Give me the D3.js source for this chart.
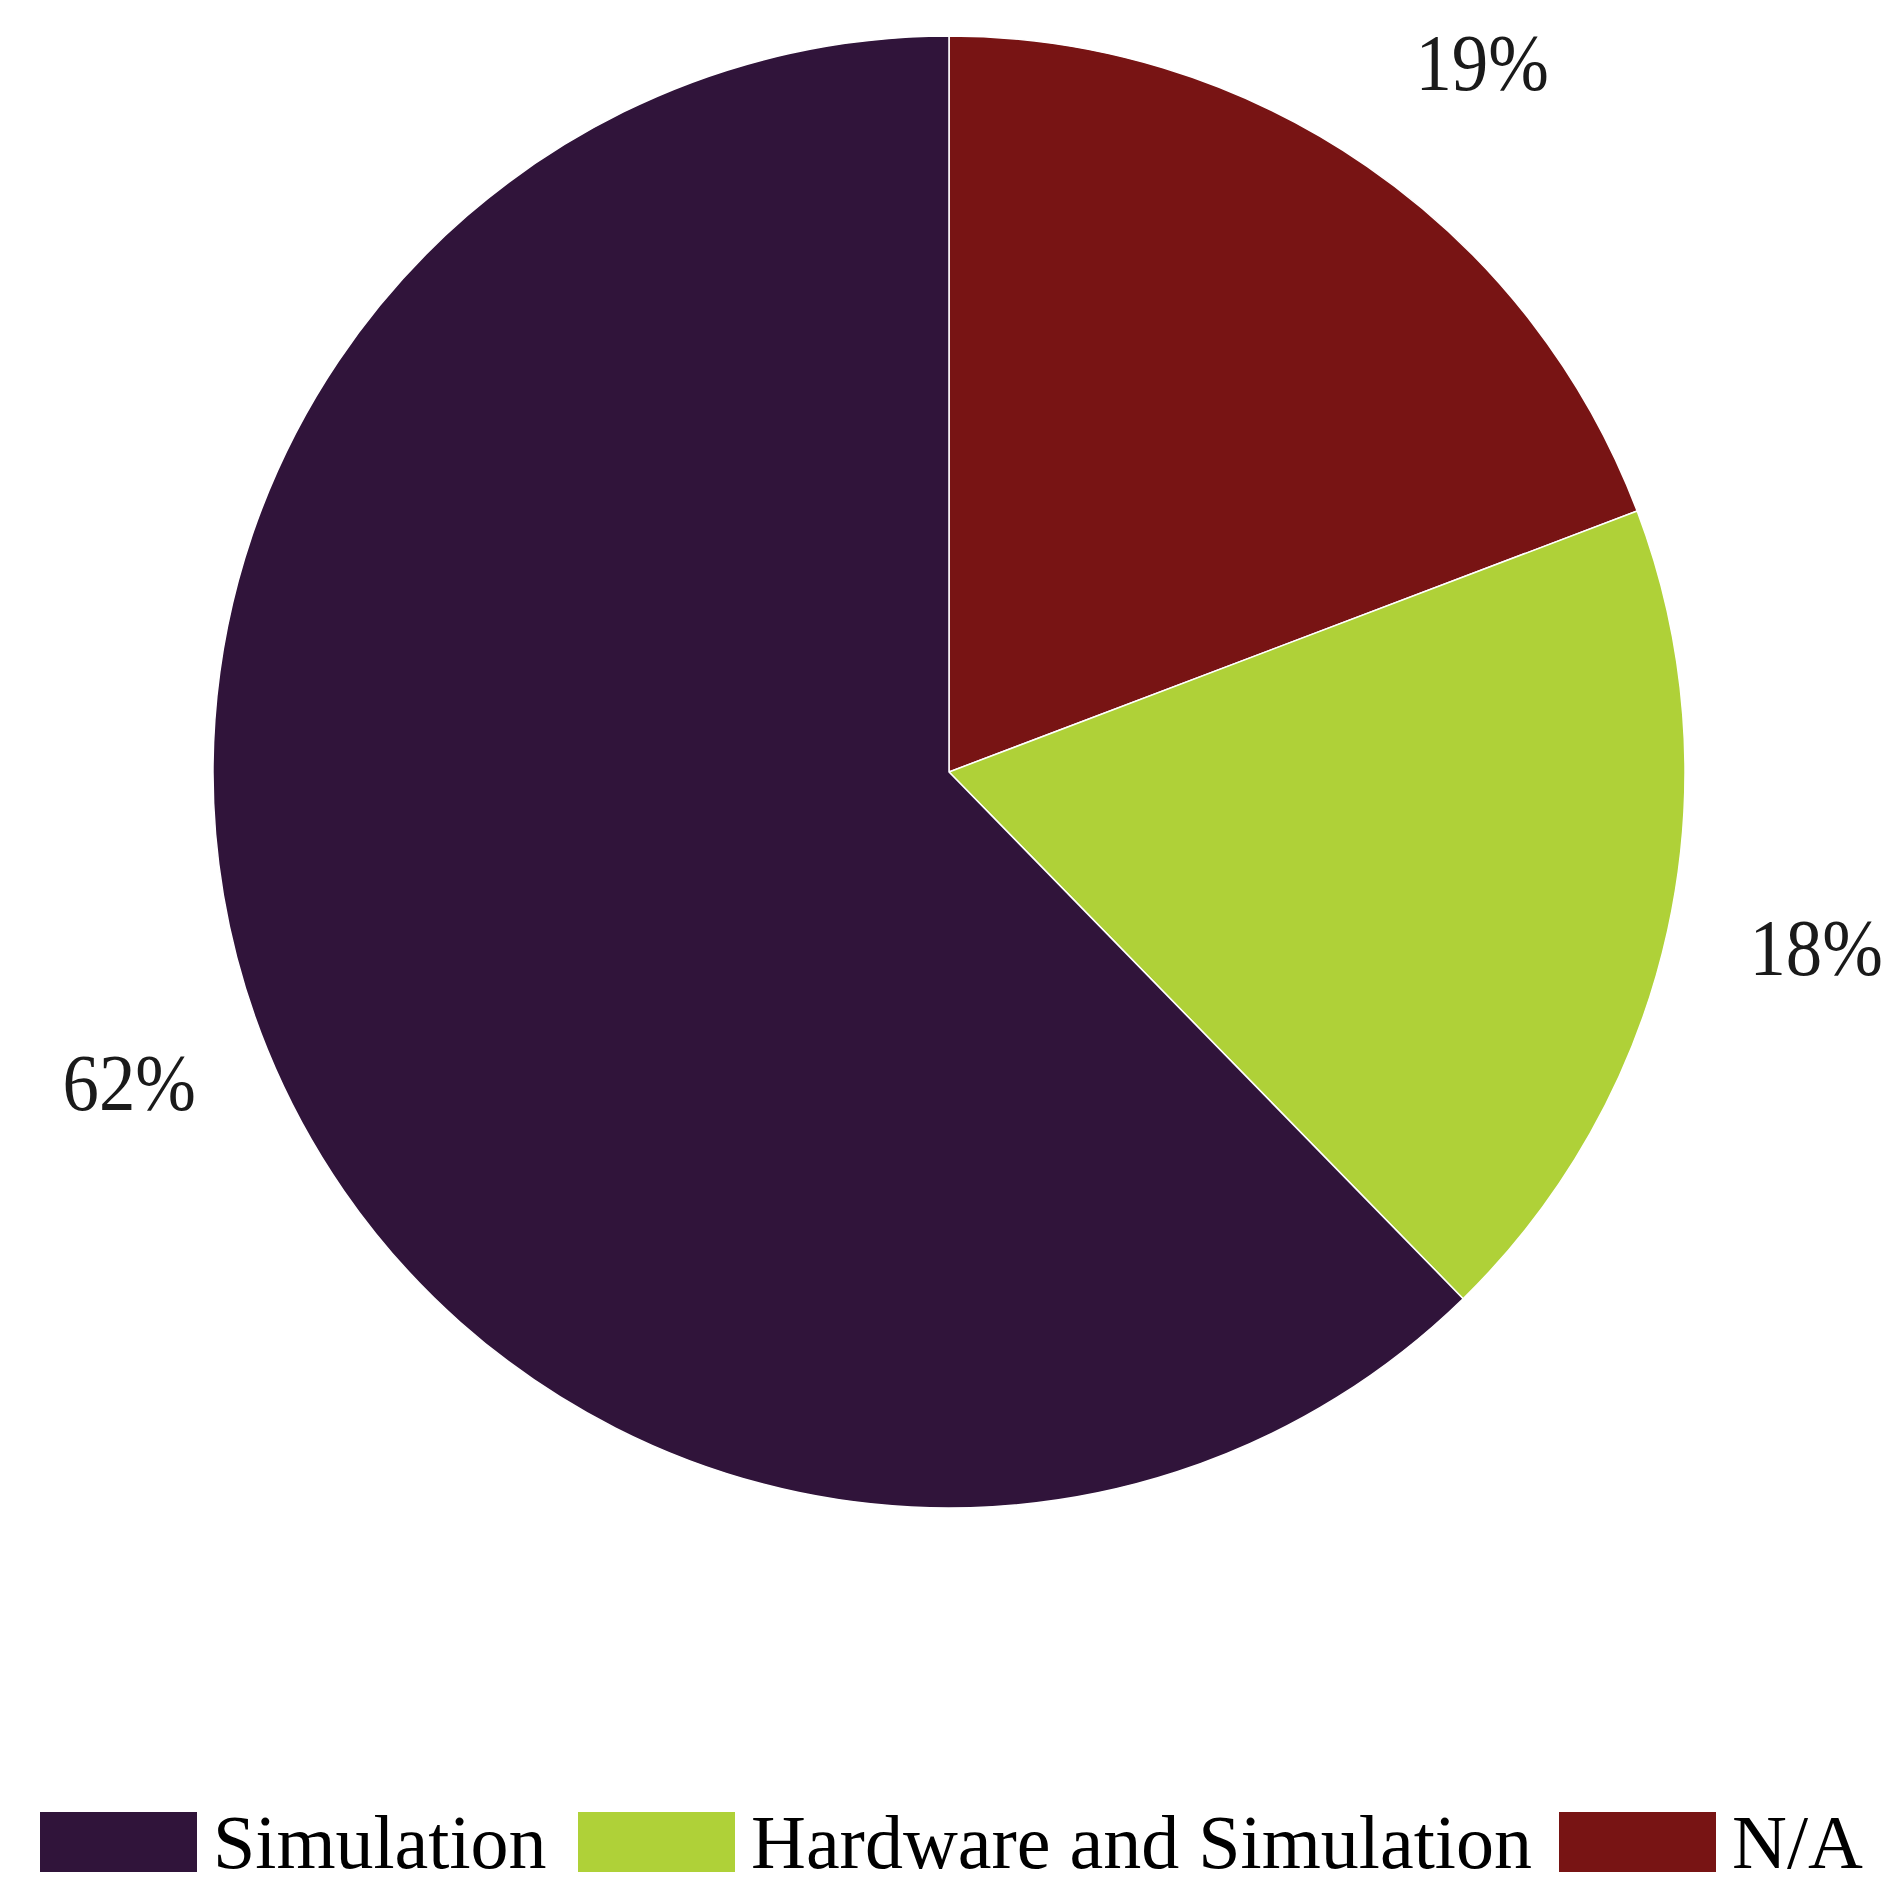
<!DOCTYPE html>
<html>
<head>
<meta charset="utf-8">
<script src="https://cdn.jsdelivr.net/npm/d3@7"></script>
<style>
  html, body { margin: 0; padding: 0; background: #ffffff; }
  svg { display: block; }
</style>
</head>
<body>
<svg id="chart" width="1900" height="1898"></svg>
<script>
// Data (legend order)
const categories = ["Simulation", "Hardware and Simulation", "N/A"];
const values = [81, 24, 25];
const colors = ["#30143a", "#afd138", "#781414"];

// Layout-only nudges for the percentage labels (legend order)
const labelNudge = [[-1, -22], [4, -14], [31, 19]];

const W = 1900, H = 1898;
const cx = 949, cy = 772, R = 736;
const labelR = 884;
const font = "'Liberation Serif', 'Times New Roman', serif";

const svg = d3.select("#chart");
const total = d3.sum(values);

// Pie drawn clockwise from 12 o'clock in reverse legend order
const order = d3.range(categories.length).reverse();
const pie = d3.pie().sort(null).value(i => values[i]);
const arcs = pie(order);

const arc = d3.arc().innerRadius(0).outerRadius(R);
const labelArc = d3.arc().innerRadius(labelR).outerRadius(labelR);

const g = svg.append("g").attr("transform", `translate(${cx},${cy})`);

g.selectAll("path.slice")
  .data(arcs)
  .join("path")
  .attr("class", "slice")
  .attr("d", arc)
  .attr("fill", d => colors[d.data])
  .attr("stroke", "#ffffff")
  .attr("stroke-width", 1.5)
  .attr("stroke-linejoin", "miter");

g.selectAll("text.pct")
  .data(arcs)
  .join("text")
  .attr("class", "pct")
  .attr("transform", d => {
    const [x, y] = labelArc.centroid(d);
    const [nx, ny] = labelNudge[d.data];
    return `translate(${x + nx},${y + ny}) scale(0.91,1)`;
  })
  .attr("text-anchor", "middle")
  .attr("dy", "0.33em")
  .attr("font-family", font)
  .attr("font-size", 80)
  .attr("fill", "#1a1a1a")
  .text(d => Math.round(values[d.data] / total * 100) + "%");

// Legend
const legendX = [40, 578, 1559];
const sw = 157, sh = 60, legendY = 1812;
const lg = svg.append("g");
categories.forEach((c, i) => {
  lg.append("rect")
    .attr("x", legendX[i]).attr("y", legendY)
    .attr("width", sw).attr("height", sh)
    .attr("fill", colors[i]);
  lg.append("text")
    .attr("x", legendX[i] + sw + 16)
    .attr("y", legendY + 56)
    .attr("font-family", font)
    .attr("font-size", 76)
    .attr("fill", "#000000")
    .text(c);
});
</script>
</body>
</html>
